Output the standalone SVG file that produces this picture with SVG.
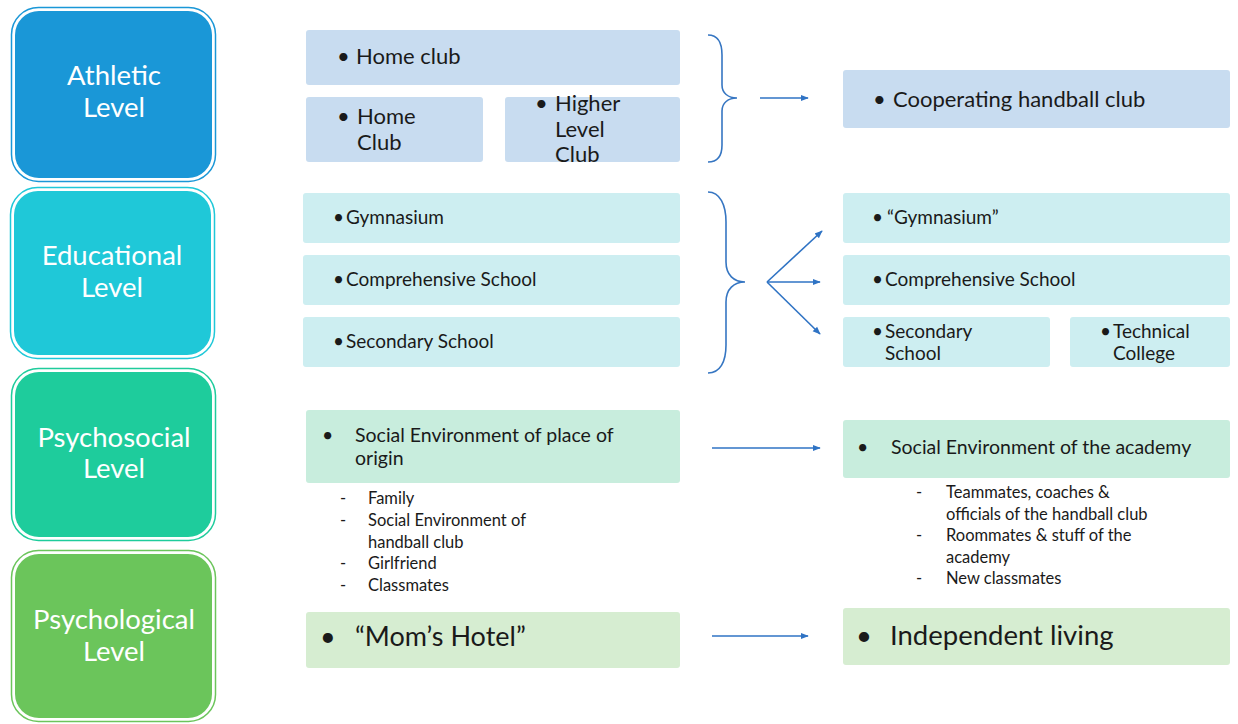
<svg xmlns="http://www.w3.org/2000/svg" width="1238" height="724" viewBox="0 0 1238 724">
<defs>
<style>
.lbl{font-family:Lato,"Open Sans","Liberation Sans",sans-serif;font-size:27.5px;fill:#ffffff;text-anchor:middle}
.t{font-family:Lato,"Open Sans","Liberation Sans",sans-serif;fill:#1a1a1a}
.blue{fill:#c8dcf0}
.cyan{fill:#cdeef1}
.mint{fill:#c8eddd}
.grn{fill:#d6edd1}
.con{stroke:#2f73c4;stroke-width:1.6;fill:none}
.brace{stroke:#3676c2;stroke-width:1.6;fill:none}
</style>
<marker id="ah" viewBox="0 0 10 10" refX="9" refY="5" markerWidth="5" markerHeight="5" orient="auto">
<path d="M0,1 L10,5 L0,9 Z" fill="#2f73c4"/>
</marker>
</defs>
<rect width="1238" height="724" fill="#ffffff"/>

<g id="athletic-level">
<rect x="11.5" y="7.5" width="204" height="174" rx="27" fill="none" stroke="#1a97d7" stroke-width="1.5"/>
<rect x="15" y="11" width="197" height="167" rx="24" fill="#1a97d7"/>
<text class="lbl" x="114" y="85">Athletic</text>
<text class="lbl" x="114" y="117">Level</text>
</g>
<g id="educational-level">
<rect x="10.5" y="187.5" width="204" height="171" rx="27" fill="none" stroke="#1fc8d8" stroke-width="1.5"/>
<rect x="14" y="191" width="197" height="164" rx="24" fill="#1fc8d8"/>
<text class="lbl" x="112" y="265">Educational</text>
<text class="lbl" x="112" y="297">Level</text>
</g>
<g id="psychosocial-level">
<rect x="11.5" y="368.5" width="204" height="172" rx="27" fill="none" stroke="#1ecc9c" stroke-width="1.5"/>
<rect x="15" y="372" width="197" height="165" rx="24" fill="#1ecc9c"/>
<text class="lbl" x="114" y="447">Psychosocial</text>
<text class="lbl" x="114" y="478">Level</text>
</g>
<g id="psychological-level">
<rect x="11.5" y="550.5" width="204" height="171" rx="27" fill="none" stroke="#6bc55b" stroke-width="1.5"/>
<rect x="15" y="554" width="197" height="164" rx="24" fill="#6bc55b"/>
<text class="lbl" x="114" y="629">Psychological</text>
<text class="lbl" x="114" y="661">Level</text>
</g>

<g id="home-club-top">
<rect class="blue" x="306" y="30" width="374" height="55" rx="3"/>
<text class="t" font-size="22" x="337" y="64">•</text>
<text class="t" font-size="22" x="356" y="64">Home club</text>
</g>
<g id="home-club">
<rect class="blue" x="306" y="97" width="177" height="65" rx="3"/>
<text class="t" font-size="22" x="337" y="124">•</text>
<text class="t" font-size="22" x="357" y="124">Home</text>
<text class="t" font-size="22" x="357" y="150">Club</text>
</g>
<g id="higher-level-club">
<rect class="blue" x="505" y="97" width="175" height="65" rx="3"/>
<text class="t" font-size="22" x="535" y="111">•</text>
<text class="t" font-size="22" x="555" y="111">Higher</text>
<text class="t" font-size="22" x="555" y="137">Level</text>
<text class="t" font-size="22" x="555" y="162">Club</text>
</g>
<g id="cooperating-club">
<rect class="blue" x="843" y="70" width="387" height="58" rx="3"/>
<text class="t" font-size="22" x="873" y="107">•</text>
<text class="t" font-size="22" x="893" y="107">Cooperating handball club</text>
</g>

<g id="gymnasium">
<rect class="cyan" x="303" y="193" width="377" height="50" rx="3"/>
<text class="t" font-size="19" x="333" y="224">•</text>
<text class="t" font-size="19" x="346" y="224">Gymnasium</text>
</g>
<g id="comprehensive">
<rect class="cyan" x="303" y="255" width="377" height="50" rx="3"/>
<text class="t" font-size="19" x="333" y="286">•</text>
<text class="t" font-size="19" x="346" y="286">Comprehensive School</text>
</g>
<g id="secondary">
<rect class="cyan" x="303" y="317" width="377" height="50" rx="3"/>
<text class="t" font-size="19" x="333" y="348">•</text>
<text class="t" font-size="19" x="346" y="348">Secondary School</text>
</g>
<g id="gymnasium-new">
<rect class="cyan" x="843" y="193" width="387" height="50" rx="3"/>
<text class="t" font-size="19" x="872" y="224">•</text>
<text class="t" font-size="19" x="887" y="224">“Gymnasium”</text>
</g>
<g id="comprehensive-new">
<rect class="cyan" x="843" y="255" width="387" height="50" rx="3"/>
<text class="t" font-size="19" x="872" y="286">•</text>
<text class="t" font-size="19" x="885" y="286">Comprehensive School</text>
</g>
<g id="secondary-new">
<rect class="cyan" x="843" y="317" width="207" height="50" rx="3"/>
<text class="t" font-size="19" x="872" y="338">•</text>
<text class="t" font-size="19" x="885" y="338">Secondary</text>
<text class="t" font-size="19" x="885" y="360">School</text>
</g>
<g id="technical-college">
<rect class="cyan" x="1070" y="317" width="160" height="50" rx="3"/>
<text class="t" font-size="19" x="1100" y="338">•</text>
<text class="t" font-size="19" x="1113" y="338">Technical</text>
<text class="t" font-size="19" x="1113" y="360">College</text>
</g>

<g id="social-origin">
<rect class="mint" x="306" y="410" width="374" height="73" rx="3"/>
<text class="t" font-size="19.5" x="322" y="442">•</text>
<text class="t" font-size="19.5" x="355" y="442">Social Environment of place of</text>
<text class="t" font-size="19.5" x="355" y="465">origin</text>
<text class="t" font-size="16.5" x="340" y="504">-</text>
<text class="t" font-size="16.5" x="368" y="504">Family</text>
<text class="t" font-size="16.5" x="340" y="526">-</text>
<text class="t" font-size="16.5" x="368" y="526">Social Environment of</text>
<text class="t" font-size="16.5" x="368" y="548">handball club</text>
<text class="t" font-size="16.5" x="340" y="569">-</text>
<text class="t" font-size="16.5" x="368" y="569">Girlfriend</text>
<text class="t" font-size="16.5" x="340" y="591">-</text>
<text class="t" font-size="16.5" x="368" y="591">Classmates</text>
</g>
<g id="social-academy">
<rect class="mint" x="843" y="420" width="387" height="58" rx="3"/>
<text class="t" font-size="19.5" x="857" y="454">•</text>
<text class="t" font-size="19.5" x="891" y="454">Social Environment of the academy</text>
<text class="t" font-size="16.5" x="916" y="498">-</text>
<text class="t" font-size="16.5" x="946" y="498">Teammates, coaches &amp;</text>
<text class="t" font-size="16.5" x="946" y="520">officials of the handball club</text>
<text class="t" font-size="16.5" x="916" y="541">-</text>
<text class="t" font-size="16.5" x="946" y="541">Roommates &amp; stuff of the</text>
<text class="t" font-size="16.5" x="946" y="563">academy</text>
<text class="t" font-size="16.5" x="916" y="584">-</text>
<text class="t" font-size="16.5" x="946" y="584">New classmates</text>
</g>

<g id="moms-hotel">
<rect class="grn" x="306" y="612" width="374" height="56" rx="3"/>
<text class="t" font-size="27" x="320" y="646">•</text>
<text class="t" font-size="27" x="355" y="646">“Mom’s Hotel”</text>
</g>
<g id="independent-living">
<rect class="grn" x="843" y="608" width="387" height="57" rx="3"/>
<text class="t" font-size="27.5" x="856" y="645">•</text>
<text class="t" font-size="27.5" x="890" y="645">Independent living</text>
</g>

<g id="connectors">
<path class="brace" d="M708,35 C718,35 722,42 722,55 L722,85 C722,93 728,98 737,98 C728,98 722,103 722,111 L722,145 C722,156 718,162 708,162"/>
<path class="brace" d="M708,192 C720,192 726,205 726,222 L726,262 C726,275 734,282 745,282 C734,282 726,289 726,302 L726,345 C726,362 720,373 708,373"/>
<line class="con" x1="760" y1="98" x2="808" y2="98" marker-end="url(#ah)"/>
<line class="con" x1="767" y1="282" x2="822" y2="231" marker-end="url(#ah)"/>
<line class="con" x1="767" y1="282" x2="820" y2="282" marker-end="url(#ah)"/>
<line class="con" x1="767" y1="282" x2="820" y2="334" marker-end="url(#ah)"/>
<line class="con" x1="712" y1="448" x2="820" y2="448" marker-end="url(#ah)"/>
<line class="con" x1="712" y1="636" x2="808" y2="636" marker-end="url(#ah)"/>
</g>
</svg>
